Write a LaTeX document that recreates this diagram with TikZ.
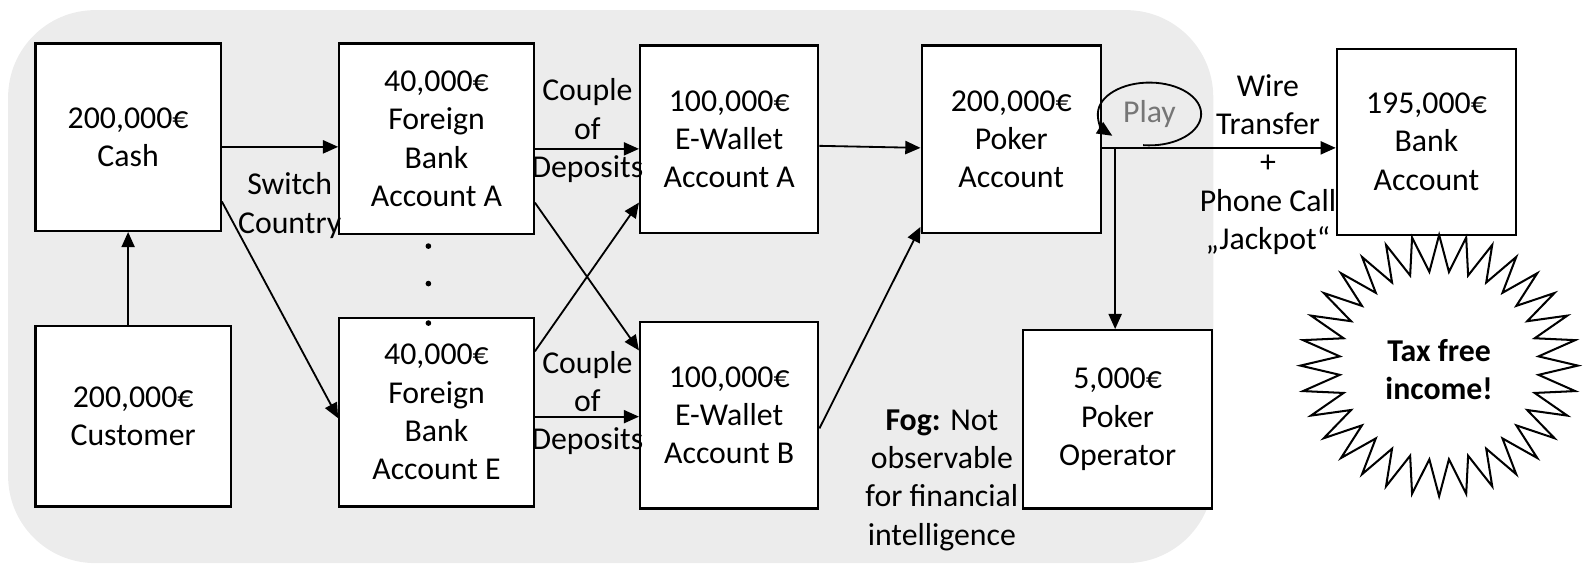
\documentclass[tikz,border=0pt]{standalone}
\usepackage{fontspec}
\setmainfont{Carlito}
\usetikzlibrary{arrows.meta}
\definecolor{bggray}{RGB}{236,236,236}
\definecolor{playgray}{RGB}{118,118,118}
\tikzset{
  box/.style={draw, line width=1.1pt, fill=white, inner sep=0pt, align=center},
  lbl/.style={inner sep=0pt, align=center},
  arr/.style={line width=0.9pt, -{Triangle[length=7.5pt,width=6.5pt]}},
  starline/.style={line width=1pt, line join=miter},
}
\begin{document}
\begin{tikzpicture}[x=0.5pt, y=-0.5pt, font=\fontsize{15.7}{18.9}\selectfont]
\useasboundingbox (0,0) rectangle (1568,558);
\fill[bggray, rounded corners=43pt] (8,10) rectangle (1198,556);

% boxes
\node[box, minimum width=91.5pt, minimum height=92.5pt] (cash) at (126.5,135.5) {200,000€\\Cash};
\node[box, minimum width=96.5pt, minimum height=89pt] (cust) at (131.5,411) {200,000€\\Customer};
\node[box, minimum width=96pt, minimum height=94pt] (fa) at (431,137) {40,000€\\Foreign\\Bank\\Account A};
\node[box, minimum width=96pt, minimum height=93pt] (fe) at (431,407) {40,000€\\Foreign\\Bank\\Account E};
\node[box, minimum width=88pt, minimum height=92.5pt] (wa) at (720,137.5) {100,000€\\E-Wallet\\Account A};
\node[box, minimum width=88pt, minimum height=92pt] (wb) at (720,410) {100,000€\\E-Wallet\\Account B};
\node[box, minimum width=88.5pt, minimum height=92.5pt] (pa) at (998.5,137.5) {200,000€\\Poker\\Account};
\node[box, minimum width=93.5pt, minimum height=88pt] (po) at (1103.5,414) {5,000€\\Poker\\Operator};
\node[box, minimum width=88.5pt, minimum height=92pt] (ba) at (1408.5,140) {195,000€\\Bank\\Account};

% dots
\foreach \y [count=\i] in {243,280,319}
  \node[circle, fill, inner sep=0pt, minimum size=2.8pt] (dot\i) at (423,\y) {};

% connectors
\draw[arr] (cust.north -| cash.south) -- (cash.south);
\draw[arr] ([shift={(0,9.5)}]cash.east) -- ([shift={(0,8)}]fa.west);
\draw[arr] ([shift={(0,63.5)}]cash.east) -- ([shift={(0,6)}]fe.west);
\draw[arr] ([shift={(0,10)}]fa.east) -- ([shift={(0,9.5)}]wa.west);
\draw[arr] ([shift={(0,63)}]fa.east) -- ([shift={(0,-64)}]wb.west);
\draw[arr] ([shift={(0,-60)}]fe.east) -- ([shift={(0,62.5)}]wa.west);
\draw[arr] ([shift={(0,4.4)}]fe.east) -- ([shift={(0,1.4)}]wb.west);
\draw[arr] ([shift={(0,6.5)}]wa.east) -- ([shift={(0,8.5)}]pa.west);
\draw[arr] ([shift={(0,13)}]wb.east) -- ([shift={(0,86.5)}]pa.west);
\draw[arr] ([shift={(0,8.5)}]pa.east) -- ([shift={(0,6)}]ba.west);
\coordinate (br) at ([shift={(13,8.5)}]pa.east);
\draw[arr] (br) -- (br |- po.north);

% play loop
\node[lbl, text=playgray] (play) at (1135,112.5) {Play};
\draw[arr] ([shift={(-6.2,30.8)}]play.center) arc[start angle=-97, end angle=224, x radius=25.5pt, y radius=15.5pt];

% labels
\node[lbl] (sw) at (286,203) {Switch\\Country};
\node[lbl] (cd1) at (580,129) {Couple\\of\\Deposits};
\node[lbl] (cd2) at (580,398) {Couple\\of\\Deposits};
\node[lbl] (wt) at (1252,162.5) {Wire\\Transfer\\+\\Phone Call\\„Jackpot“};
\node[lbl] (fog) at (930,474) {\textbf{Fog:} Not\\observable\\for financial\\intelligence};

% starburst
\coordinate (sc) at (1421,361);
\begin{scope}[shift={(sc)}]
\draw[starline] (0:68.5pt and 64.5pt)
  \foreach \i in {0,...,31} { -- ({\i*11.25}:68.5pt and 64.5pt) -- ({\i*11.25+5.625}:49.3pt and 46.5pt) } -- cycle;
\end{scope}
\node[lbl, font=\fontsize{15.7}{18.9}\selectfont\bfseries] (tax) at ([shift={(0,4)}]sc) {Tax free\\income!};
\end{tikzpicture}
\end{document}
